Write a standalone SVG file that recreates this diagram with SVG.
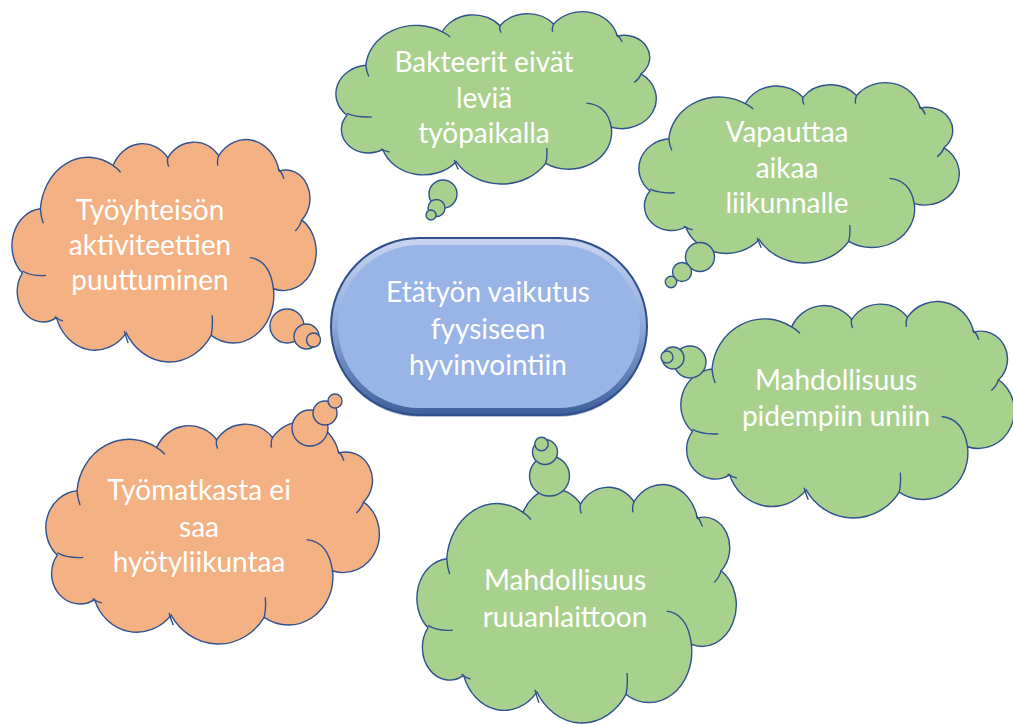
<svg xmlns="http://www.w3.org/2000/svg" width="1013" height="724" viewBox="0 0 1013 724">
<style>
.green{fill:#A9D18E}
.orange{fill:#F4B183}
.bub{stroke:#2F528F;stroke-width:1.4}
.lbl{font-family:Lato,"Liberation Sans",sans-serif;font-size:28px;fill:#ffffff;text-anchor:middle}
</style>
<defs>
<path id="cloudShape" stroke="#2F528F" stroke-width="1.4" vector-effect="non-scaling-stroke" d="M29 62 A50.8 50.8 0 0 1 106 23 A34.6 34.6 0 0 1 164 16 A34.5 34.5 0 0 1 218 14 A36 36 0 0 1 282 28 A25.7 25.7 0 0 1 306 72 A34.8 34.8 0 0 1 276 134 A43.1 43.1 0 0 1 210 176 A53 53 0 0 1 120 174 A43.2 43.2 0 0 1 46 160 A27.4 27.4 0 0 1 10 120 A33.3 33.3 0 0 1 29 62 Z"/>
<path id="cloudInner" fill="none" stroke="#2F528F" stroke-width="1.4" vector-effect="non-scaling-stroke" d="M29 62 Q29.5 69 32 75 M106 23 Q110 25 114 29 M164 16 Q163 20 165 24 M218 14 Q216 18 217 23 M281 26 Q285 29 287 35 M306 72 Q304 78 299 82 M251 106 Q272 108 276 134 M211 158 Q212 168 210 176 M118 172 Q120 178 122 183 M44 159 Q48 162 53 163 M35 122 Q20 123 10 118"/>
<linearGradient id="bevel" x1="0" y1="0" x2="0" y2="1">
<stop offset="0" stop-color="#C7D5F0"/>
<stop offset="0.45" stop-color="#94AEDF"/>
<stop offset="1" stop-color="#3F5F9C"/>
</linearGradient>
</defs>

<g id="center">
<rect x="331" y="240" width="316" height="177" rx="88.5" fill="#2D4A80" opacity="0.35"/>
<rect x="331" y="238" width="316" height="177" rx="88.5" fill="url(#bevel)" stroke="#2F4F8A" stroke-width="2"/>
<rect x="338" y="245" width="302" height="163" rx="81.5" fill="#99B4E6"/>
<text class="lbl"><tspan x="488" y="302">Etätyön vaikutus</tspan><tspan x="488" y="339">fyysiseen</tspan><tspan x="488" y="375">hyvinvointiin</tspan></text>
</g>

<g id="cloud-bakteerit">
<g transform="translate(337 12) scale(0.99375 0.86)"><use href="#cloudShape" class="green"/><use href="#cloudInner"/></g>
<circle class="green bub" cx="443" cy="194" r="14"/>
<circle class="green bub" cx="436.5" cy="208" r="8.5"/>
<circle class="green bub" cx="431" cy="215" r="5"/>
<text class="lbl"><tspan x="484" y="72">Bakteerit eivät</tspan><tspan x="484" y="108">leviä</tspan><tspan x="484" y="143">työpaikalla</tspan></text>
</g>

<g id="cloud-vapauttaa">
<g transform="translate(640 83) scale(0.99375 0.9)"><use href="#cloudShape" class="green"/><use href="#cloudInner"/></g>
<circle class="green bub" cx="700" cy="257" r="14.5"/>
<circle class="green bub" cx="682" cy="272" r="9.5"/>
<circle class="green bub" cx="671" cy="282" r="5.7"/>
<text class="lbl"><tspan x="787" y="142">Vapauttaa</tspan><tspan x="787" y="178">aikaa</tspan><tspan x="787" y="213">liikunnalle</tspan></text>
</g>

<g id="cloud-uni">
<g transform="translate(682 302) scale(1.034375 1.08)"><use href="#cloudShape" class="green"/><use href="#cloudInner"/></g>
<circle class="green bub" cx="690" cy="362" r="16"/>
<circle class="green bub" cx="673" cy="358" r="11"/>
<circle class="green bub" cx="667" cy="357" r="6"/>
<text class="lbl"><tspan x="836" y="390">Mahdollisuus</tspan><tspan x="836" y="426">pidempiin uniin</tspan></text>
</g>

<g id="cloud-ruoka">
<g transform="translate(418 485) scale(0.990625 1.19)"><use href="#cloudShape" class="green"/><use href="#cloudInner"/></g>
<circle class="green bub" cx="549.5" cy="476" r="20"/>
<circle class="green bub" cx="545" cy="452" r="12.5"/>
<circle class="green bub" cx="541.5" cy="444" r="6.7"/>
<text class="lbl"><tspan x="565" y="590">Mahdollisuus</tspan><tspan x="565" y="627">ruuanlaittoon</tspan></text>
</g>

<g id="cloud-tyomatka">
<g transform="translate(47 422) scale(1.034375 1.11)"><use href="#cloudShape" class="orange"/><use href="#cloudInner"/></g>
<circle class="orange bub" cx="310" cy="428" r="18"/>
<circle class="orange bub" cx="325" cy="413" r="12"/>
<circle class="orange bub" cx="335" cy="401" r="7"/>
<text class="lbl"><tspan x="199" y="500">Työmatkasta ei</tspan><tspan x="199" y="537">saa</tspan><tspan x="199" y="572">hyötyliikuntaa</tspan></text>
</g>

<g id="cloud-tyoyhteiso">
<g transform="translate(13 140) scale(0.94375 1.11)"><use href="#cloudShape" class="orange"/><use href="#cloudInner"/></g>
<circle class="orange bub" cx="287" cy="326" r="17"/>
<circle class="orange bub" cx="306.5" cy="336.5" r="12.5"/>
<circle class="orange bub" cx="313.5" cy="340" r="7"/>
<text class="lbl"><tspan x="150" y="220">Työyhteisön</tspan><tspan x="150" y="255">aktiviteettien</tspan><tspan x="150" y="290">puuttuminen</tspan></text>
</g>
</svg>
